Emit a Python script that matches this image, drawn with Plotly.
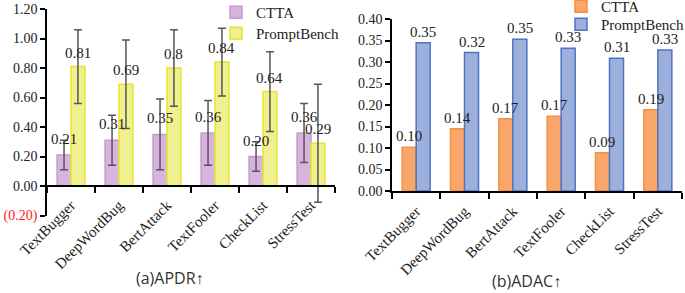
import plotly.graph_objects as go

categories = ["TextBugger", "DeepWordBug", "BertAttack", "TextFooler", "CheckList", "StressTest"]

# (a) APDR
apdr_ctta = [0.21, 0.31, 0.35, 0.36, 0.20, 0.36]
apdr_ctta_err = [0.10, 0.17, 0.24, 0.22, 0.10, 0.20]
apdr_ctta_labels = ["0.21", "0.31", "0.35", "0.36", "0.20", "0.36"]
apdr_pb = [0.81, 0.69, 0.80, 0.84, 0.64, 0.29]
apdr_pb_err = [0.25, 0.30, 0.26, 0.23, 0.27, 0.40]
apdr_pb_labels = ["0.81", "0.69", "0.8", "0.84", "0.64", "0.29"]
apdr_ticks = [-0.2, 0.0, 0.2, 0.4, 0.6, 0.8, 1.0, 1.2]
apdr_ticktext = ['<span style="color:#ff2020">(0.20)</span>', "0.00", "0.20", "0.40", "0.60", "0.80", "1.00", "1.20"]

# (b) ADAC
adac_ctta = [0.102, 0.145, 0.168, 0.174, 0.089, 0.189]
adac_ctta_labels = ["0.10", "0.14", "0.17", "0.17", "0.09", "0.19"]
adac_pb = [0.345, 0.322, 0.353, 0.332, 0.309, 0.328]
adac_pb_labels = ["0.35", "0.32", "0.35", "0.33", "0.31", "0.33"]

W, H = 685, 293
SERIF = "Times New Roman, Liberation Serif, serif"
BARGAP = 0.42

def px(v):
    return v / W

def py(v):
    return (H - v) / H

fig = go.Figure()

err_style = dict(type="data", visible=True, color="#555555", thickness=1.5, width=4)

fig.add_trace(go.Bar(
    x=categories, y=apdr_ctta, name="CTTA", xaxis="x", yaxis="y",
    marker=dict(color="#d6b4dc", line=dict(color="#c49ad0", width=1.5)),
    error_y=dict(array=apdr_ctta_err, **err_style), legend="legend",
))
fig.add_trace(go.Bar(
    x=categories, y=apdr_pb, name="PromptBench", xaxis="x", yaxis="y",
    marker=dict(color="#f1f08e", line=dict(color="#e4e434", width=1.5)),
    error_y=dict(array=apdr_pb_err, **err_style), legend="legend2",
))
fig.add_trace(go.Bar(
    x=categories, y=adac_ctta, name="CTTA", xaxis="x2", yaxis="y2",
    marker=dict(color="#f9a66a", line=dict(color="#f59040", width=1.5)), legend="legend3",
))
fig.add_trace(go.Bar(
    x=categories, y=adac_pb, name="PromptBench", xaxis="x2", yaxis="y2",
    marker=dict(color="#9db0dc", line=dict(color="#4f73c3", width=1.5)), legend="legend4",
))

# value labels
half = (1 - BARGAP) / 4
annotations = []
lab_font = dict(family=SERIF, size=15, color="#222")
for i in range(len(categories)):
    annotations.append(dict(x=i - half, y=apdr_ctta[i], xref="x", yref="y", text=apdr_ctta_labels[i],
                            showarrow=False, yanchor="bottom", yshift=6, font=lab_font))
    annotations.append(dict(x=i + half, y=apdr_pb[i], xref="x", yref="y", text=apdr_pb_labels[i],
                            showarrow=False, yanchor="bottom", yshift=4, font=lab_font))
    annotations.append(dict(x=i - half, y=adac_ctta[i], xref="x2", yref="y2", text=adac_ctta_labels[i],
                            showarrow=False, yanchor="bottom", yshift=1, font=lab_font))
    annotations.append(dict(x=i + half, y=adac_pb[i], xref="x2", yref="y2", text=adac_pb_labels[i],
                            showarrow=False, yanchor="bottom", yshift=1, font=lab_font))

annotations.append(dict(x=px(170), y=py(278), xref="paper", yref="paper", text="(a)APDR↑",
                        xanchor="center", yanchor="middle",
                        showarrow=False, font=dict(family="Open Sans", size=16, color="#333")))
annotations.append(dict(x=px(526), y=py(281), xref="paper", yref="paper", text="(b)ADAC↑",
                        xanchor="center", yanchor="middle",
                        showarrow=False, font=dict(family="Open Sans", size=16, color="#333")))

y1_dom = [py(215.5), py(9)]
zero_pos = y1_dom[0] + (0.2 / 1.4) * (y1_dom[1] - y1_dom[0])

axis_common = dict(showline=True, linecolor="black", linewidth=1.5, showgrid=False, zeroline=False,
                   tickfont=dict(family=SERIF, size=14, color="#222"), ticks="outside",
                   tickcolor="black", tickwidth=1.5)
xfont = dict(family=SERIF, size=15, color="#222")

leg_common = dict(xanchor="left", yanchor="top", bgcolor="rgba(0,0,0,0)",
                  font=dict(family=SERIF, size=15, color="#222"))

fig.update_layout(
    width=W, height=H,
    margin=dict(l=0, r=0, t=0, b=0, autoexpand=False),
    paper_bgcolor="white", plot_bgcolor="white",
    barmode="group", bargap=BARGAP, bargroupgap=0,
    xaxis=dict(domain=[px(47), px(335)], anchor="free", position=zero_pos,
               tickangle=-45, tickson="boundaries", ticklen=6, ticklabelstandoff=4, **axis_common),
    yaxis=dict(domain=y1_dom, range=[-0.2, 1.2], anchor="x", tickvals=apdr_ticks,
               ticktext=apdr_ticktext, ticklen=5, **axis_common),
    xaxis2=dict(domain=[px(392), px(682)], anchor="y2",
                tickangle=-45, tickson="boundaries", ticklen=6, ticklabelstandoff=4, **axis_common),
    yaxis2=dict(domain=[py(191), py(19)], range=[0, 0.40], anchor="x2", dtick=0.05,
                tickformat=".2f", ticklen=5, **axis_common),
    legend=dict(x=px(216), y=py(-4), **leg_common),
    legend2=dict(x=px(216), y=py(17), **leg_common),
    legend3=dict(x=px(561), y=py(-10), **leg_common),
    legend4=dict(x=px(561), y=py(8), **leg_common),
    annotations=annotations,
    showlegend=True,
)
fig.update_xaxes(tickfont=xfont)

fig.write_html("out.html", config={"displayModeBar": False},
               post_script="document.body.style.margin='0';document.body.style.padding='0';")
